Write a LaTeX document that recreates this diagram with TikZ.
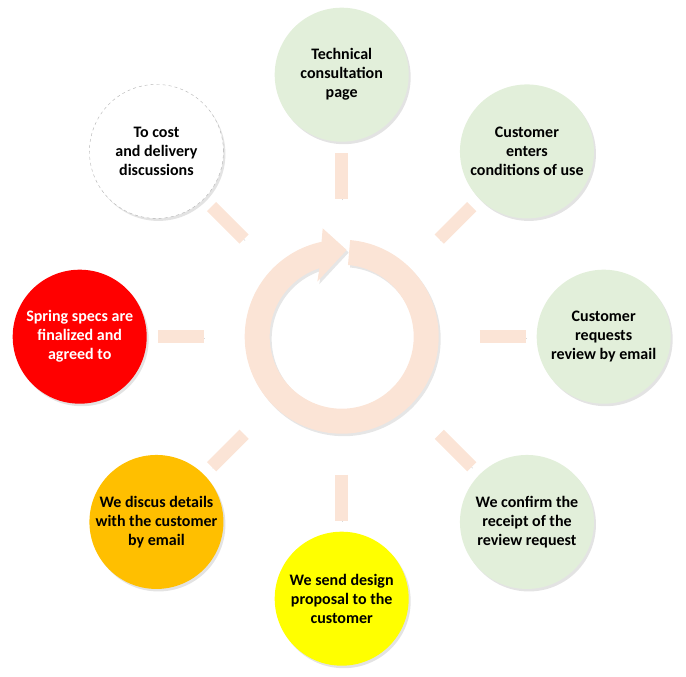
\documentclass[tikz,border=0pt]{standalone}
\usepackage{fontspec}
\setmainfont{Carlito}
\usetikzlibrary{shadows,calc}
\definecolor{ringpeach}{HTML}{FBE4D6}
\definecolor{mintgreen}{HTML}{E2EFDA}
\definecolor{specred}{HTML}{FF0000}
\definecolor{amber}{HTML}{FFBF00}
\definecolor{lemon}{HTML}{FFFF00}

\begin{document}
\begin{tikzpicture}[
  x=1pt, y=1pt,
  stage/.style={circle, minimum size=134pt, inner sep=0pt, align=center,
                font=\fontsize{16}{19}\selectfont\bfseries,
                drop shadow={shadow xshift=2pt, shadow yshift=-2.5pt, opacity=0.22}},
  bar/.style={line width=13pt, draw=ringpeach,
              preaction={draw=black!15, transform canvas={shift={(1pt,-1.5pt)}}}}
]
  \useasboundingbox (-341.7,-340.3) rectangle (344.3,336.7);
  \coordinate (hub) at (0,0);

  %% Cycle ring
  \fill[ringpeach, drop shadow={shadow xshift=2pt, shadow yshift=-2.5pt, opacity=0.2}]
    (85:97) arc[start angle=85, end angle=-258, radius=97]
    -- (-19,108.4) -- (5,86.7) -- (-24.4,55) -- (-252:72)
    arc[start angle=-252, end angle=85, radius=72] -- cycle;

  %% Stages
  \node[stage, fill=mintgreen] (tech) at (90:262)
    {Technical\\consultation\\page};
  \node[stage, fill=mintgreen] (enters) at (45:262)
    {Customer\\enters\\conditions of use};
  \node[stage, fill=mintgreen] (requests) at (0:262)
    {Customer\\requests\\review by email};
  \node[stage, fill=mintgreen] (confirm) at (-45:262)
    {We confirm the\\receipt of the\\review request};
  \node[stage, fill=lemon] (proposal) at (-90:262)
    {We send design\\proposal to the\\customer};
  \node[stage, fill=amber] (discuss) at (-135:262)
    {We discus details\\with the customer\\by email};
  \node[stage, fill=specred, text=white] (specs) at (180:262)
    {Spring specs are\\finalized and\\agreed to};
  \node[stage, fill=white, draw=black!30, dashed] (costing) at (135:262)
    {To cost\\and delivery\\discussions};

  %% Links
  \draw[bar] ($(hub)!138pt!(tech)$) -- ($(hub)!184pt!(tech)$);
  \draw[bar] ($(hub)!138pt!(enters)$) -- ($(hub)!184pt!(enters)$);
  \draw[bar] ($(hub)!138pt!(requests)$) -- ($(hub)!184pt!(requests)$);
  \draw[bar] ($(hub)!138pt!(confirm)$) -- ($(hub)!184pt!(confirm)$);
  \draw[bar] ($(hub)!138pt!(proposal)$) -- ($(hub)!184pt!(proposal)$);
  \draw[bar] ($(hub)!138pt!(discuss)$) -- ($(hub)!184pt!(discuss)$);
  \draw[bar] ($(hub)!138pt!(specs)$) -- ($(hub)!184pt!(specs)$);
  \draw[bar] ($(hub)!138pt!(costing)$) -- ($(hub)!184pt!(costing)$);
\end{tikzpicture}
\end{document}
